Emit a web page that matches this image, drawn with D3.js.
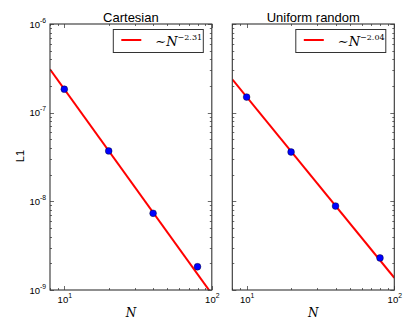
<!DOCTYPE html>
<html>
<head>
<meta charset="utf-8">
<script src="https://cdn.jsdelivr.net/npm/d3@7"></script>
<style>
  body { margin: 0; background: #fff; }
  text { font-family: "Liberation Sans", Arial, sans-serif; fill: #000; }
</style>
</head>
<body>
<svg id="chart"></svg>
<script>
// values
var nValues = [10, 20, 40, 80];
var cartesianL1 = [1.84e-7, 3.70e-8, 7.33e-9, 1.83e-9];
var uniformL1 = [1.50e-7, 3.60e-8, 8.85e-9, 2.30e-9];
var panelTitles = ["Cartesian", "Uniform random"];
var fitExponents = [-2.31, -2.04];
var fitPrefactors = [3.76e-5, 1.65e-5];
var fitLabels = ["\u22122.31", "\u22122.04"];
var xTickExps = [1, 2];
var yTickExps = [-9, -8, -7, -6];

var screen = { width: 415, height: 332 };
var panels = [
  { left: 50, right: 211.8, data: cartesianL1 },
  { left: 232.3, right: 394.3, data: uniformL1 }
];
var plotTop = 24, plotBottom = 290;

var svg = d3.select("#chart")
  .attr("width", screen.width)
  .attr("height", screen.height);

var yScale = d3.scaleLog()
  .domain([1e-9, 1e-6])
  .range([plotBottom, plotTop]);

// minor tick values
var yMinor = [];
[-9, -8, -7].forEach(function(e) {
  for (var k = 2; k <= 9; k++) yMinor.push(k * Math.pow(10, e));
});
var xMinor = [8, 9];
for (var k = 2; k <= 9; k++) xMinor.push(k * 10);

panels.forEach(function(p, pi) {
  var xScale = d3.scaleLog()
    .domain([8, 100])
    .range([p.left, p.right]);

  var g = svg.append("g").classed("panel", true);

  var clipId = "clip" + pi;
  g.append("clipPath").attr("id", clipId)
    .append("rect")
    .attr("x", p.left).attr("y", plotTop)
    .attr("width", p.right - p.left).attr("height", plotBottom - plotTop);

  // fit line
  var fitLine = d3.line()
    .x(function(d) { return xScale(d); })
    .y(function(d) { return yScale(fitPrefactors[pi] * Math.pow(d, fitExponents[pi])); });
  g.append("path")
    .datum(xScale.domain())
    .attr("d", fitLine)
    .attr("clip-path", "url(#" + clipId + ")")
    .attr("fill", "none")
    .attr("stroke", "#ff0000")
    .attr("stroke-width", 2);

  // points
  g.selectAll("circle")
    .data(p.data)
    .enter()
    .append("circle")
    .attr("cx", function(d, i) { return xScale(nValues[i]); })
    .attr("cy", function(d) { return yScale(d); })
    .attr("r", 3.4)
    .attr("fill", "#0000ff")
    .attr("stroke", "#000")
    .attr("stroke-width", 0.4);

  // inward ticks on all sides
  var ticks = g.append("g").attr("stroke", "#444").attr("stroke-width", 0.8);
  function yTick(v, len) {
    var y = Math.round(yScale(v)) + 0.5;
    ticks.append("line").attr("x1", p.left).attr("x2", p.left + len).attr("y1", y).attr("y2", y);
    ticks.append("line").attr("x1", p.right).attr("x2", p.right - len).attr("y1", y).attr("y2", y);
  }
  function xTick(v, len) {
    var x = Math.round(xScale(v)) + 0.5;
    ticks.append("line").attr("x1", x).attr("x2", x).attr("y1", plotBottom).attr("y2", plotBottom - len);
    ticks.append("line").attr("x1", x).attr("x2", x).attr("y1", plotTop).attr("y2", plotTop + len);
  }
  yTickExps.forEach(function(e) { yTick(Math.pow(10, e), 4); });
  yMinor.forEach(function(v) { yTick(v, 2); });
  xTickExps.forEach(function(e) { xTick(Math.pow(10, e), 4); });
  xMinor.forEach(function(v) { xTick(v, 2); });

  // frame
  g.append("rect")
    .attr("x", p.left).attr("y", plotTop)
    .attr("width", p.right - p.left).attr("height", plotBottom - plotTop)
    .attr("fill", "none")
    .attr("stroke", "#333")
    .attr("stroke-width", 1.1);

  // tick labels
  if (pi === 0) {
    yTickExps.forEach(function(e) {
      var t = g.append("text")
        .attr("x", p.left - 4)
        .attr("y", yScale(Math.pow(10, e)) + 3.8)
        .attr("text-anchor", "end")
        .style("font-size", "9.5px");
      t.append("tspan").text("10");
      t.append("tspan").attr("dy", -5.3).style("font-size", "6.8px").text("-" + (-e));
    });
  }
  xTickExps.forEach(function(e) {
    var t = g.append("text")
      .attr("x", xScale(Math.pow(10, e)) + 0.5)
      .attr("y", plotBottom + 13)
      .attr("text-anchor", "middle")
      .style("font-size", "9.5px");
    t.append("tspan").text("10");
    t.append("tspan").attr("dy", -5.3).style("font-size", "6.8px").text(e);
  });

  // title
  g.append("text")
    .attr("x", (p.left + p.right) / 2)
    .attr("y", 21.5)
    .attr("text-anchor", "middle")
    .style("font-size", "13px")
    .text(panelTitles[pi]);

  // x label
  g.append("text")
    .attr("x", (p.left + p.right) / 2)
    .attr("y", 317)
    .attr("text-anchor", "middle")
    .style("font-family", "'DejaVu Serif', serif")
    .style("font-style", "italic")
    .style("font-size", "12px")
    .text("N");

  // legend
  var lx = p.right - 98.5, ly = 29.5;
  var legend = g.append("g").classed("legend", true)
    .attr("transform", "translate(" + lx + "," + ly + ")");
  legend.append("rect")
    .attr("width", 90).attr("height", 23)
    .attr("fill", "#fff")
    .attr("stroke", "#333")
    .attr("stroke-width", 1);
  legend.append("line")
    .attr("x1", 8).attr("x2", 28)
    .attr("y1", 10.5).attr("y2", 10.5)
    .attr("stroke", "#ff0000")
    .attr("stroke-width", 2);
  var lt = legend.append("text")
    .attr("x", 42)
    .attr("y", 16)
    .style("font-family", "'DejaVu Serif', serif")
    .style("font-size", "13px");
  lt.append("tspan").text("\u223C");
  lt.append("tspan").style("font-style", "italic").text("N");
  lt.append("tspan").attr("dy", -6).style("font-size", "8px").text(fitLabels[pi]);
});

// y label
svg.append("text")
  .attr("transform", "translate(24,156) rotate(-90)")
  .attr("text-anchor", "middle")
  .style("font-size", "11px")
  .text("L1");
</script>
</body>
</html>
